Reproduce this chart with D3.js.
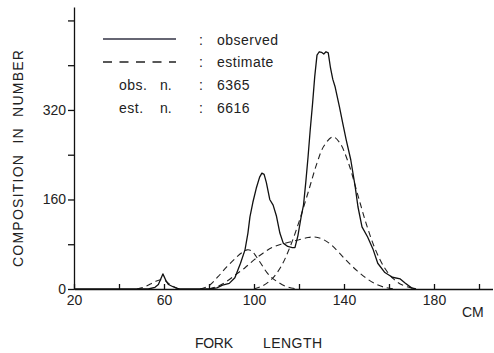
<!DOCTYPE html>
<html>
<head>
<meta charset="utf-8">
<script src="https://cdn.jsdelivr.net/npm/d3@7"></script>
<style>
  body { margin: 0; background: #fff; }
  svg { display: block; }
  text { font-family: 'Liberation Sans', Arial, sans-serif; fill: #222; }
</style>
</head>
<body>
<svg width="494" height="353"></svg>
<script>
// observed composition (fork length cm, number)
const observedLen = [20, 53, 56, 57.5, 59.5, 61, 62, 64, 66, 67, 80, 83.5, 86, 89, 91.5, 94, 96, 97.3, 98.2, 99.5, 101, 102.5, 103.5, 104.5, 105.5, 107, 108.5, 110, 111.5, 113, 115, 117, 118.2, 119.5, 121, 122, 123, 124, 125, 126, 127, 128, 129, 130, 131, 132, 133, 134, 135, 136, 138, 139.5, 141, 143, 145, 146.2, 148, 150.5, 153, 155, 158, 161.5, 165, 167, 170, 172]
const observedNum = [0, 0, 3, 8, 27, 14, 8, 4, 1, 0, 0, 2, 7, 10, 20, 46, 70, 100, 129, 155, 180, 200, 207, 205, 190, 160, 150, 130, 100, 82, 76, 74, 74, 95, 130, 150, 190, 235, 285, 330, 380, 418, 424, 423, 420, 424, 422, 395, 375, 362, 325, 295, 266, 231, 182, 147, 111, 93, 70, 46, 30, 21, 18, 11, 2, 0]

// estimated age components
const est1Len = [48, 50, 52, 54, 56, 58, 60, 62, 64, 66, 68]
const est1Num = [0, 2, 5, 9, 13, 16, 16, 10, 5, 1, 0]
const est2Len = [76, 80, 84, 88, 92, 95, 97, 99, 101, 103, 105.6, 108, 110, 114, 119]
const est2Num = [0, 6, 22, 40, 56, 66, 70, 68, 58, 46, 30, 20, 14, 5, 0]
const est3Len = [80, 84, 88, 92, 96, 100, 104, 108, 112, 116, 120, 124, 127, 130, 134, 138, 142, 146, 150, 154, 158, 162]
const est3Num = [0, 5, 14, 26, 38, 52, 64, 74, 80, 84, 88, 92, 93, 90, 80, 64, 47, 32, 19, 9, 3, 0]
const est4Len = [100, 104, 108, 112, 116, 120, 124, 128, 131, 135, 138, 142, 146, 150, 154, 158, 162, 166, 170, 172]
const est4Num = [0, 6, 18, 40, 75, 120, 172, 225, 255, 272, 262, 225, 170, 115, 70, 38, 18, 7, 2, 0]

const xTicks = [20, 40, 60, 80, 100, 120, 140, 160, 180, 200]
const xLabels = [20, 60, 100, 140, 180]
const yTicks = [0, 80, 160, 240, 320, 400, 480]
const yLabels = [0, 160, 320]

const legendRows = [
  { key: 'observed', val: 'observed' },
  { key: 'estimate', val: 'estimate' },
  { key: 'obs. n.', val: '6365' },
  { key: 'est. n.', val: '6616' }
]

const svg = d3.select('svg')
const x = d3.scaleLinear().domain([20, 206]).range([74, 492.5])
const y = d3.scaleLinear().domain([0, 504]).range([289, 7])

// axes
const xAxis = d3.axisBottom(x)
  .tickValues(xTicks)
  .tickSizeInner(-5)
  .tickSizeOuter(0)
  .tickPadding(6)
  .tickFormat(d => xLabels.includes(d) ? d : '')
svg.append('g')
  .attr('transform', 'translate(0,' + y(0) + ')')
  .call(xAxis)
  .call(g => g.selectAll('path,line').attr('stroke', '#111').attr('stroke-width', 1.3))
  .call(g => g.selectAll('text').style('font-size', '14px').attr('fill', '#222'))

const yAxis = d3.axisLeft(y)
  .tickValues(yTicks)
  .tickSizeInner(6)
  .tickSizeOuter(0)
  .tickPadding(2)
  .tickFormat(d => yLabels.includes(d) ? d : '')
svg.append('g')
  .attr('transform', 'translate(' + x(20) + ',0)')
  .call(yAxis)
  .call(g => g.selectAll('path,line').attr('stroke', '#111').attr('stroke-width', 1.3))
  .call(g => g.selectAll('text').style('font-size', '14px').attr('fill', '#222'))

// curves
const line = d3.line()
  .x(d => x(d[0]))
  .y(d => y(d[1]))

const smooth = d3.line()
  .x(d => x(d[0]))
  .y(d => y(d[1]))
  .curve(d3.curveCatmullRom)

const ests = [[est1Len, est1Num], [est2Len, est2Num], [est3Len, est3Num], [est4Len, est4Num]]
ests.forEach(function (e) {
  svg.append('path')
    .datum(d3.zip(e[0], e[1]))
    .attr('d', smooth)
    .attr('fill', 'none')
    .attr('stroke', '#222')
    .attr('stroke-width', 1.1)
    .attr('stroke-dasharray', '6,4')
})

svg.append('path')
  .datum(d3.zip(observedLen, observedNum))
  .attr('d', line)
  .attr('fill', 'none')
  .attr('stroke', '#111')
  .attr('stroke-width', 1.3)
  .attr('stroke-linejoin', 'round')

// legend
svg.append('line')
  .attr('x1', 103).attr('x2', 176).attr('y1', 39).attr('y2', 39)
  .attr('stroke', '#334').attr('stroke-width', 1.5)
svg.append('line')
  .attr('x1', 103).attr('x2', 176).attr('y1', 62).attr('y2', 62)
  .attr('stroke', '#222').attr('stroke-width', 1.3)
  .attr('stroke-dasharray', '9,7.5')

const rowY = [45, 67, 90, 113]
legendRows.forEach(function (r, i) {
  svg.append('text').attr('x', 199).attr('y', rowY[i]).style('font-size', '14px').text(':')
  svg.append('text').attr('x', 217).attr('y', rowY[i]).style('font-size', '14px')
    .style('letter-spacing', '0.5px').text(r.val)
  if (i >= 2) {
    const parts = r.key.split(' ')
    svg.append('text').attr('x', 119).attr('y', rowY[i]).style('font-size', '14px')
      .style('letter-spacing', '0.5px').text(parts[0])
    svg.append('text').attr('x', 160).attr('y', rowY[i]).style('font-size', '14px').text(parts[1])
  }
})

// axis titles
svg.append('text').attr('x', 462).attr('y', 317).style('font-size', '14px').text('CM')
svg.append('text').attr('x', 195).attr('y', 348).style('font-size', '14px')
  .attr('textLength', 38).text('FORK')
svg.append('text').attr('x', 263).attr('y', 348).style('font-size', '14px')
  .attr('textLength', 59).text('LENGTH')

svg.append('text')
  .attr('transform', 'translate(23,267) rotate(-90)')
  .style('font-size', '14px')
  .style('white-space', 'pre')
  .attr('textLength', 217)
  .text('COMPOSITION  IN  NUMBER')
</script>
</body>
</html>
